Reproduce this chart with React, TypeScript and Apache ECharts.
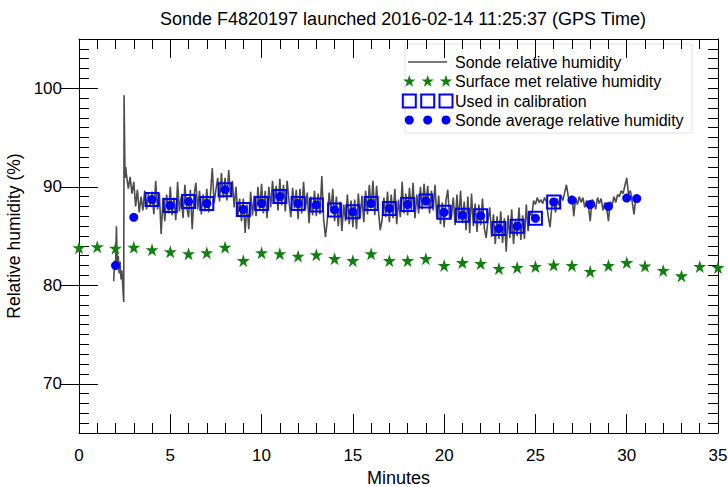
import React, { useEffect, useRef } from "react";
import * as echarts from "echarts";

// ---- Data ----
const surfaceMinutes = [0, 1, 2, 3, 4, 5, 6, 7, 8, 9, 10, 11, 12, 13, 14, 15, 16, 17, 18, 19, 20, 21, 22, 23, 24, 25, 26, 27, 28, 29, 30, 31, 32, 33, 34, 35];
const surfaceRH = [83.8, 83.9, 83.75, 83.85, 83.6, 83.4, 83.2, 83.3, 83.85, 82.5, 83.3, 83.2, 82.95, 83.1, 82.7, 82.5, 83.2, 82.5, 82.5, 82.7, 82.0, 82.3, 82.2, 81.7, 81.8, 81.9, 82.05, 82.0, 81.4, 82.0, 82.3, 81.95, 81.5, 80.95, 81.9, 81.8];

const avgMinutes = [2, 3, 4, 5, 6, 7, 8, 9, 10, 11, 12, 13, 14, 15, 16, 17, 18, 19, 20, 21, 22, 23, 24, 25, 26, 27, 28, 29, 30, 30.55];
const avgRH = [82.0, 86.9, 88.7, 88.1, 88.5, 88.3, 89.7, 87.7, 88.3, 89.0, 88.3, 88.15, 87.65, 87.45, 88.3, 87.8, 88.2, 88.55, 87.4, 87.1, 87.05, 85.75, 86.0, 86.8, 88.45, 88.65, 88.2, 88.0, 88.85, 88.8];

const calibrationMinutes = [4, 5, 6, 7, 8, 9, 10, 11, 12, 13, 14, 15, 16, 17, 18, 19, 20, 21, 22, 23, 24, 25, 26];

// Sonde relative humidity trace: irregular start, then 0.1-minute samples
const sondeEarlyMinutes = [1.9, 1.95, 2.0, 2.05, 2.1, 2.15, 2.2, 2.25, 2.3, 2.35, 2.4, 2.45, 2.47, 2.52, 2.56];
const sondeEarlyRH = [80.4, 82.5, 81.6, 86.0, 82.0, 83.0, 81.2, 82.4, 80.6, 81.5, 79.8, 78.3, 99.3, 90.9, 92.0];
const sondeStartMinute = 2.6;
const sondeStepMinute = 0.1;
const sondeRH = [
  91.2, 89.8, 91.0, 89.3,
  90.5, 88.0, 89.7, 87.4, 89.0, 87.6, 89.6, 87.7, 89.3, 88.1,
  89.5, 87.2, 90.6, 87.7, 89.3, 85.2, 88.9, 86.5, 89.2, 87.3,
  90.0, 87.1, 88.9, 86.6, 90.5, 87.5, 89.0, 86.8, 90.2, 87.9,
  86.9, 89.7, 85.7, 89.1, 90.4, 87.7, 89.6, 87.2, 89.2, 87.5,
  89.8, 87.4, 89.2, 91.9, 88.3, 89.7, 90.9, 88.5, 91.4, 88.9,
  90.9, 88.6, 91.7, 89.1, 90.6, 87.9, 90.0, 87.0, 88.8, 86.5,
  88.8, 85.3, 88.2, 85.7, 89.5, 87.1, 89.1, 87.0, 90.0, 87.7,
  90.3, 87.3, 89.6, 86.8, 90.0, 87.9, 90.6, 88.3, 90.1, 87.6,
  90.8, 88.1, 90.2, 87.5, 90.6, 88.6, 86.9, 89.9, 87.8, 89.7,
  86.7, 89.8, 87.3, 90.5, 87.7, 89.4, 86.3, 89.0, 87.1, 89.6,
  87.0, 89.3, 87.2, 91.1, 86.7, 84.9, 86.6, 89.4, 87.5, 89.8,
  86.5, 89.0, 86.0, 88.5, 85.5, 88.2, 86.5, 89.2, 86.2, 88.6,
  85.9, 88.7, 85.7, 89.3, 86.8, 89.1, 86.4, 89.6, 87.2, 90.2,
  87.8, 90.6, 87.1, 90.1, 87.6, 85.6, 86.6, 88.9, 86.9, 89.5,
  86.4, 89.2, 86.8, 89.8, 86.2, 88.7, 86.9, 90.5, 87.3, 89.3,
  87.1, 89.9, 87.5, 90.4, 86.8, 89.2, 87.3, 90.0, 87.7, 90.3,
  88.1, 90.1, 87.3, 89.6, 87.6, 90.2, 86.7, 89.1, 86.2, 88.4,
  85.9, 88.6, 89.7, 86.7, 87.0, 88.9, 86.1, 89.2, 86.6, 89.6,
  86.3, 88.5, 85.6, 89.0, 85.3, 89.3, 86.0, 88.3, 85.4, 88.2,
  86.1, 88.8, 85.8, 84.8, 86.6, 87.9, 84.9, 87.2, 84.2, 87.0,
  84.7, 87.5, 84.3, 86.8, 83.4, 87.1, 84.8, 87.7, 84.2, 86.6,
  85.0, 87.9, 84.6, 87.1, 84.7, 88.2, 85.5, 87.5, 87.0, 88.6,
  88.2, 88.9, 88.4, 88.7, 88.3, 88.9, 88.5, 87.0, 85.9, 88.0,
  88.5, 87.4, 88.8, 88.1, 89.1, 88.6, 89.4, 90.2, 89.0, 88.3,
  89.1, 87.0, 88.9, 88.2, 89.0, 88.4, 88.9, 87.9, 88.6, 88.1,
  86.5, 88.7, 88.5, 87.7, 88.9, 88.3, 88.8, 87.6, 88.4, 87.9,
  86.5, 88.5, 88.1, 89.0, 88.4, 89.2, 89.0, 89.6, 89.3, 90.1,
  90.9, 89.2, 89.6, 88.5, 87.2, 88.9, 88.6,
];

const xTicks = [0, 5, 10, 15, 20, 25, 30, 35];
const yMajorTicks = [70, 80, 90, 100];

const titleText = "Sonde F4820197 launched 2016-02-14 11:25:37 (GPS Time)";
const legendLabels = [
  "Sonde relative humidity",
  "Surface met relative humidity",
  "Used in calibration",
  "Sonde average relative humidity",
];

const FONT = "'Liberation Sans', Arial, Helvetica, sans-serif";
const GREEN = "#12800f";
const BLUE = "#0000ff";
const LINE = "#4d4d4d";
const STAR = "path://M50,0L61.2,34.5L97.6,34.5L68.2,55.9L79.4,90.5L50,69.1L20.6,90.5L31.8,55.9L2.4,34.5L38.8,34.5Z";

function starPoints(cx: number, cy: number, r: number) {
  const pts: number[][] = [];
  for (let i = 0; i < 10; i++) {
    const rr = i % 2 === 0 ? r : r * 0.4;
    const a = -Math.PI / 2 + (i * Math.PI) / 5;
    pts.push([cx + rr * Math.cos(a), cy + rr * Math.sin(a)]);
  }
  return pts;
}

export default function App() {
  const ref = useRef<HTMLDivElement>(null);

  useEffect(() => {
    if (!ref.current) return;
    const chart = echarts.init(ref.current, undefined, { renderer: "svg" });

    const sondeData: number[][] = [];
    sondeEarlyMinutes.forEach((t, i) => sondeData.push([t, sondeEarlyRH[i]]));
    sondeRH.forEach((v, i) => sondeData.push([+(sondeStartMinute + i * sondeStepMinute).toFixed(2), v]));

    const surfaceData = surfaceMinutes.map((t, i) => [t, surfaceRH[i]]);
    const avgData = avgMinutes.map((t, i) => [t, avgRH[i]]);
    const calibData = calibrationMinutes.map((t) => [t, avgRH[avgMinutes.indexOf(t)]]);

    const tickStyle = { color: "#000", width: 1 };
    const xBase = {
      type: "value" as const,
      min: 0,
      max: 35,
      interval: 5,
      axisLine: { show: true, onZero: false, lineStyle: tickStyle },
      axisTick: { show: true, inside: true, length: 19, lineStyle: tickStyle },
      minorTick: { show: true, splitNumber: 5, length: 10, lineStyle: tickStyle },
      splitLine: { show: false },
      minorSplitLine: { show: false },
    };
    const yMinor = {
      type: "value" as const,
      min: 65,
      max: 105,
      interval: 1,
      axisLine: { show: true, onZero: false, lineStyle: tickStyle },
      axisTick: { show: true, inside: true, length: 10, lineStyle: tickStyle },
      splitLine: { show: false },
    };
    const yMajor = {
      type: "value" as const,
      min: 65,
      max: 105,
      axisLine: { show: false },
      axisTick: { show: true, inside: true, length: 19, lineStyle: tickStyle, customValues: yMajorTicks },
      axisLabel: { show: false },
      splitLine: { show: false },
    };

    const lx = [409.3, 427.7, 446];
    const legendY = [62, 81.5, 101, 120];

    const option: any = {
      animation: false,
      backgroundColor: "#fff",
      title: {
        text: titleText,
        left: 398,
        top: 5,
        textAlign: "center",
        textStyle: { fontFamily: FONT, fontSize: 18, fontWeight: "normal", color: "#000" },
      },
      grid: { left: 79, right: 10, top: 39, bottom: 54, containLabel: false, outerBoundsMode: "none" },
      xAxis: [
        {
          ...xBase,
          position: "bottom",
          axisLabel: {
            show: true,
            color: "#000",
            fontFamily: FONT,
            fontSize: 17,
            margin: 14,
            customValues: xTicks,
          },
          name: "Minutes",
          nameLocation: "middle",
          nameGap: 29,
          nameTextStyle: { fontFamily: FONT, fontSize: 18, color: "#000" },
        },
        { ...xBase, position: "top", axisLabel: { show: false } },
      ],
      yAxis: [
        {
          ...yMinor,
          position: "left",
          axisLabel: {
            show: true,
            color: "#000",
            fontFamily: FONT,
            fontSize: 17,
            margin: 17,
            formatter: (v: number) => (v % 10 === 0 && v >= 70 && v <= 100 ? String(v) : ""),
          },
          name: "Relative humidity (%)",
          nameLocation: "middle",
          nameGap: 51,
          nameTextStyle: { fontFamily: FONT, fontSize: 17.5, color: "#000" },
        },
        { ...yMajor, position: "left" },
        { ...yMinor, position: "right", axisLabel: { show: false } },
        { ...yMajor, position: "right" },
      ],
      series: [
        {
          name: legendLabels[0],
          type: "line",
          data: sondeData,
          showSymbol: false,
          symbol: "none",
          lineStyle: { color: LINE, width: 1.6 },
          z: 2,
        },
        {
          name: legendLabels[1],
          type: "scatter",
          data: surfaceData,
          symbol: STAR,
          symbolSize: 13,
          itemStyle: { color: GREEN, opacity: 1 },
          z: 3,
        },
        {
          name: legendLabels[2],
          type: "scatter",
          data: calibData,
          symbol: "rect",
          symbolSize: 13,
          itemStyle: { color: "rgba(0,0,0,0)", borderColor: BLUE, borderWidth: 2, opacity: 1 },
          z: 4,
        },
        {
          name: legendLabels[3],
          type: "scatter",
          data: avgData,
          symbol: "circle",
          symbolSize: 9,
          itemStyle: { color: BLUE, opacity: 1 },
          z: 5,
        },
      ],
      graphic: [
        {
          type: "group",
          z: 100,
          children: [
            {
              type: "rect",
              shape: { x: 405, y: 44, width: 287, height: 89 },
              style: { fill: "#fff", stroke: "#e4e4e4", lineWidth: 1 },
            },
            {
              type: "line",
              shape: { x1: 408, y1: legendY[0], x2: 447, y2: legendY[0] },
              style: { stroke: LINE, lineWidth: 1.5 },
            },
            ...lx.map((x) => ({
              type: "polygon",
              shape: { points: starPoints(x, legendY[1], 6.5) },
              style: { fill: GREEN },
            })),
            ...lx.map((x) => ({
              type: "rect",
              shape: { x: x - 6.5, y: legendY[2] - 6.5, width: 13, height: 13 },
              style: { fill: "none", stroke: BLUE, lineWidth: 2 },
            })),
            ...lx.map((x) => ({
              type: "circle",
              shape: { cx: x, cy: legendY[3], r: 4.5 },
              style: { fill: BLUE },
            })),
            ...legendLabels.map((t, i) => ({
              type: "text",
              x: 455,
              y: legendY[i],
              style: {
                text: t,
                fill: "#000",
                font: `16px ${FONT}`,
                verticalAlign: "middle",
                align: "left",
              },
            })),
          ],
        },
      ],
    };

    chart.setOption(option);
    return () => chart.dispose();
  }, []);

  return (
    <div
      ref={ref}
      style={{ position: "fixed", left: 0, top: 0, width: 728, height: 487, background: "#fff" }}
    />
  );
}
